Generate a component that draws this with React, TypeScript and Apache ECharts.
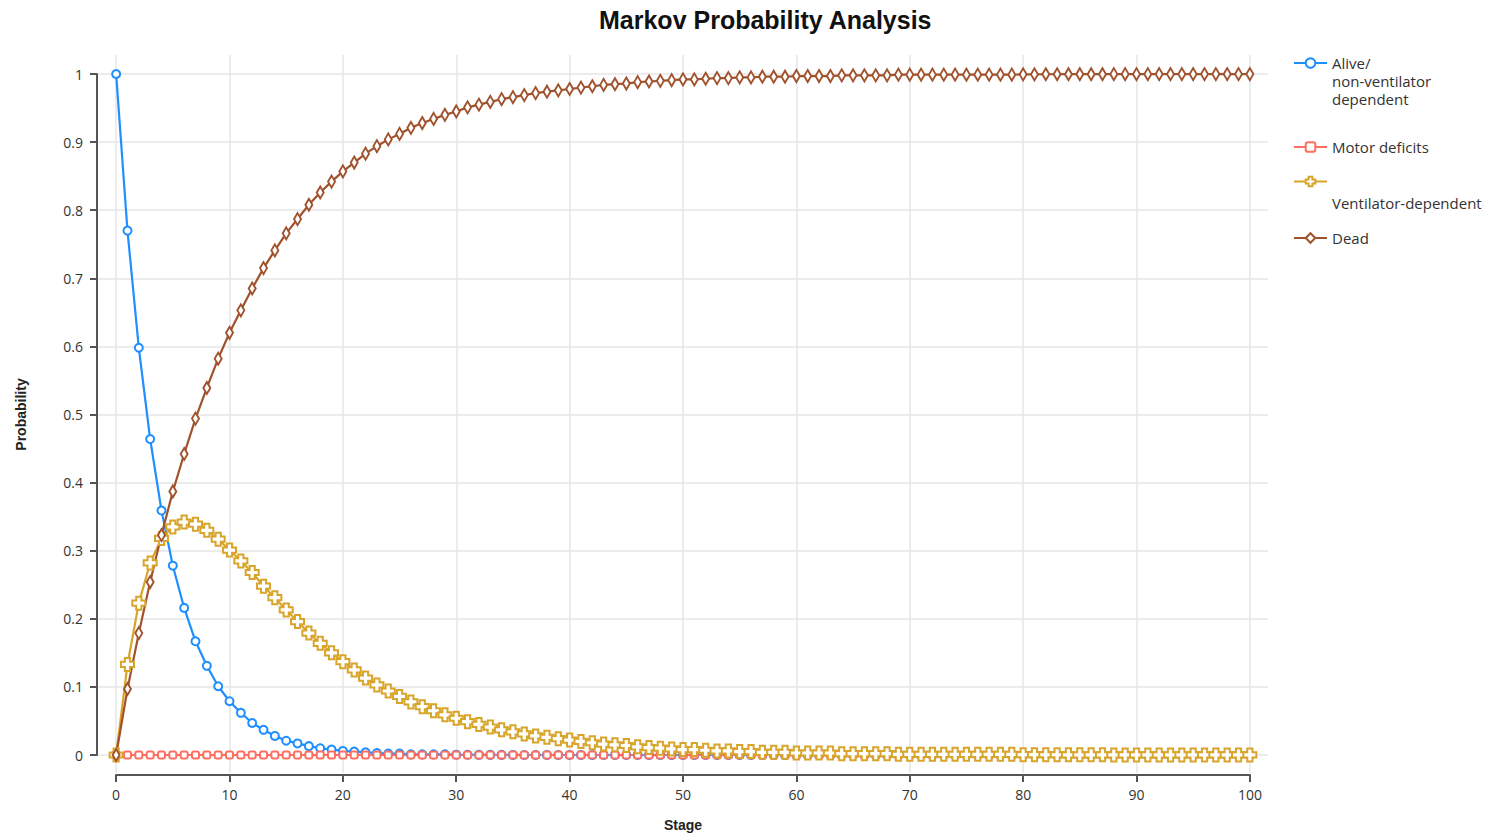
import React, { useEffect, useRef } from 'react';
import * as echarts from 'echarts';

const stages = Array.from({ length: 101 }, (_, i) => i);
const xTicks = [0, 10, 20, 30, 40, 50, 60, 70, 80, 90, 100];
const yTicks = [0, 0.1, 0.2, 0.3, 0.4, 0.5, 0.6, 0.7, 0.8, 0.9, 1];

const seriesNames = ['Alive/non-ventilator dependent', 'Motor deficits', 'Ventilator-dependent', 'Dead'];

const alive = [
  1, 0.770, 0.598, 0.464, 0.359, 0.278, 0.216, 0.167, 0.131, 0.101,
  0.079, 0.062, 0.047, 0.037, 0.028, 0.021, 0.017, 0.013, 0.010, 0.008,
  0.006, 0.005, 0.004, 0.003, 0.002, 0.002, 0.001, 0.001, 0.001, 0.001,
  0.0005, 0.0004, 0.0003, 0.0002, 0.0002, 0.0001, 0, 0, 0, 0,
  0, 0, 0, 0, 0, 0, 0, 0, 0, 0,
  0, 0, 0, 0, 0, 0, 0, 0, 0, 0,
  0, 0, 0, 0, 0, 0, 0, 0, 0, 0,
  0, 0, 0, 0, 0, 0, 0, 0, 0, 0,
  0, 0, 0, 0, 0, 0, 0, 0, 0, 0,
  0, 0, 0, 0, 0, 0, 0, 0, 0, 0,
  0,
];

const motor = [
  0, 0, 0, 0, 0, 0, 0, 0, 0, 0,
  0, 0, 0, 0, 0, 0, 0, 0, 0, 0,
  0, 0, 0, 0, 0, 0, 0, 0, 0, 0,
  0, 0, 0, 0, 0, 0, 0, 0, 0, 0,
  0, 0, 0, 0, 0, 0, 0, 0, 0, 0,
  0, 0, 0, 0, 0, 0, 0, 0, 0, 0,
  0, 0, 0, 0, 0, 0, 0, 0, 0, 0,
  0, 0, 0, 0, 0, 0, 0, 0, 0, 0,
  0, 0, 0, 0, 0, 0, 0, 0, 0, 0,
  0, 0, 0, 0, 0, 0, 0, 0, 0, 0,
  0,
];

const ventilator = [
  0, 0.133, 0.223, 0.282, 0.318, 0.335, 0.342, 0.339, 0.330, 0.317,
  0.301, 0.285, 0.268, 0.248, 0.231, 0.213, 0.196, 0.179, 0.164, 0.150,
  0.137, 0.125, 0.113, 0.103, 0.094, 0.086, 0.078, 0.071, 0.065, 0.059,
  0.054, 0.049, 0.045, 0.041, 0.037, 0.034, 0.031, 0.028, 0.026, 0.024,
  0.022, 0.020, 0.018, 0.016, 0.015, 0.014, 0.012, 0.011, 0.010, 0.009,
  0.008, 0.008, 0.007, 0.006, 0.006, 0.005, 0.005, 0.004, 0.004, 0.004,
  0.003, 0.003, 0.003, 0.003, 0.002, 0.002, 0.002, 0.002, 0.002, 0.001,
  0.001, 0.001, 0.001, 0.001, 0.001, 0.001, 0.001, 0.001, 0.001, 0.001,
  0.0005, 0.0005, 0.0004, 0.0004, 0.0003, 0.0003, 0.0003, 0.0003, 0.0002, 0.0002,
  0.0002, 0.0002, 0.0001, 0.0001, 0.0001, 0.0001, 0.0001, 0.0001, 0.0001, 0.0001,
  0.0001,
];

const dead = [
  0, 0.097, 0.179, 0.254, 0.323, 0.387, 0.442, 0.494, 0.539, 0.582,
  0.620, 0.653, 0.685, 0.715, 0.741, 0.766, 0.787, 0.808, 0.826, 0.842,
  0.857, 0.870, 0.883, 0.894, 0.904, 0.912, 0.921, 0.928, 0.934, 0.940,
  0.945, 0.951, 0.955, 0.959, 0.963, 0.966, 0.969, 0.972, 0.974, 0.976,
  0.978, 0.980, 0.982, 0.984, 0.985, 0.986, 0.988, 0.989, 0.990, 0.991,
  0.992, 0.992, 0.993, 0.994, 0.994, 0.995, 0.995, 0.996, 0.996, 0.996,
  0.997, 0.997, 0.997, 0.997, 0.998, 0.998, 0.998, 0.998, 0.998, 0.999,
  0.999, 0.999, 0.999, 0.999, 0.999, 0.999, 0.999, 0.999, 0.999, 0.999,
  0.9995, 0.9995, 0.9996, 0.9996, 0.9997, 0.9997, 0.9997, 0.9997, 0.9998, 0.9998,
  0.9998, 0.9998, 0.9999, 0.9999, 0.9999, 0.9999, 0.9999, 0.9999, 0.9999, 0.9999,
  0.9999,
];

const colors = ['#1f8fff', '#ff6f61', '#d8a42a', '#a0522d'];
const crossSymbol = 'path://M3,0H7V3H10V7H7V10H3V7H0V3H3Z';

function makeSeries(name: string, values: number[], color: string, symbol: string, size: any) {
  return {
    type: 'line',
    name,
    xAxisIndex: 0,
    yAxisIndex: 0,
    data: stages.map((s, i) => [s, values[i]]),
    symbol,
    symbolSize: size,
    showSymbol: true,
    lineStyle: { color, width: 2.2 },
    itemStyle: { color: '#fff', borderColor: color, borderWidth: 2 },
    emphasis: { disabled: true },
  };
}

const labelFont = 'Open Sans';
const legendText = { fontSize: 15, color: '#333', fontFamily: labelFont, lineHeight: 18 };
const legendBase = {
  left: 1293,
  orient: 'vertical',
  padding: 0,
  itemWidth: 33,
  itemHeight: 12,
  selectedMode: false,
};

export default function App() {
  const ref = useRef<HTMLDivElement>(null);
  useEffect(() => {
    const chart = echarts.init(ref.current!, null, { renderer: 'svg' });
    const option: any = {
      animation: false,
      backgroundColor: '#fff',
      title: {
        text: 'Markov Probability Analysis',
        left: 594,
        top: 2,
        textStyle: { fontSize: 25, fontWeight: 'bold', fontFamily: 'Liberation Sans', color: '#111' },
      },
      legend: [
        {
          ...legendBase,
          top: 18,
          data: [seriesNames[0]],
          formatter: () => '\n\nAlive/\nnon-ventilator\ndependent',
          textStyle: legendText,
        },
        { ...legendBase, top: 138, data: [seriesNames[1]], textStyle: legendText },
        {
          ...legendBase,
          top: 150,
          data: [seriesNames[2]],
          formatter: () => '\n\nVentilator-dependent',
          textStyle: { ...legendText, lineHeight: 21 },
        },
        { ...legendBase, top: 229, data: [seriesNames[3]], textStyle: legendText },
      ],
      grid: [
        { left: 98, right: 232, top: 55, bottom: 67, containLabel: false },
        { left: 116, right: 250, top: 74, bottom: 85, containLabel: false },
      ],
      xAxis: [
        {
          type: 'value',
          gridIndex: 0,
          min: -1.6,
          max: 101.6,
          axisLine: { show: false },
          axisTick: { show: false, customValues: xTicks },
          axisLabel: { show: false, customValues: xTicks },
          splitLine: { show: true, lineStyle: { color: '#e6e6e6', width: 1.5 } },
        },
        {
          type: 'value',
          gridIndex: 1,
          min: 0,
          max: 100,
          interval: 10,
          offset: 20,
          name: 'Stage',
          nameLocation: 'middle',
          nameGap: 43,
          nameTextStyle: { fontSize: 14, fontWeight: 'bold', fontFamily: 'Liberation Sans', color: '#222' },
          axisLine: { show: true, onZero: false, lineStyle: { color: '#555', width: 2 } },
          axisTick: { show: true, length: 7, lineStyle: { color: '#555', width: 2 } },
          axisLabel: { margin: 12, fontSize: 14, color: '#333', fontFamily: labelFont },
          splitLine: { show: false },
        },
      ],
      yAxis: [
        {
          type: 'value',
          gridIndex: 0,
          min: -0.0264,
          max: 1.0279,
          axisLine: { show: false },
          axisTick: { show: false, customValues: yTicks },
          axisLabel: { show: false, customValues: yTicks },
          splitLine: { show: true, lineStyle: { color: '#e6e6e6', width: 1.5 } },
        },
        {
          type: 'value',
          gridIndex: 1,
          min: 0,
          max: 1,
          interval: 0.1,
          offset: 19,
          name: 'Probability',
          nameLocation: 'middle',
          nameGap: 69,
          nameTextStyle: { fontSize: 14, fontWeight: 'bold', fontFamily: 'Liberation Sans', color: '#222' },
          axisLine: { show: true, onZero: false, lineStyle: { color: '#555', width: 2 } },
          axisTick: { show: true, length: 7, lineStyle: { color: '#555', width: 2 } },
          axisLabel: { margin: 14, fontSize: 14, color: '#333', fontFamily: labelFont },
          splitLine: { show: false },
        },
      ],
      series: [
        makeSeries(seriesNames[0], alive, colors[0], 'circle', 8),
        makeSeries(seriesNames[1], motor, colors[1], 'roundRect', 7),
        makeSeries(seriesNames[2], ventilator, colors[2], crossSymbol, 13),
        makeSeries(seriesNames[3], dead, colors[3], 'diamond', [7, 12]),
      ],
    };
    chart.setOption(option);
    return () => chart.dispose();
  }, []);
  return (
    <div
      ref={ref}
      style={{ position: 'fixed', left: 0, top: 0, width: 1500, height: 840, background: '#fff' }}
    />
  );
}
